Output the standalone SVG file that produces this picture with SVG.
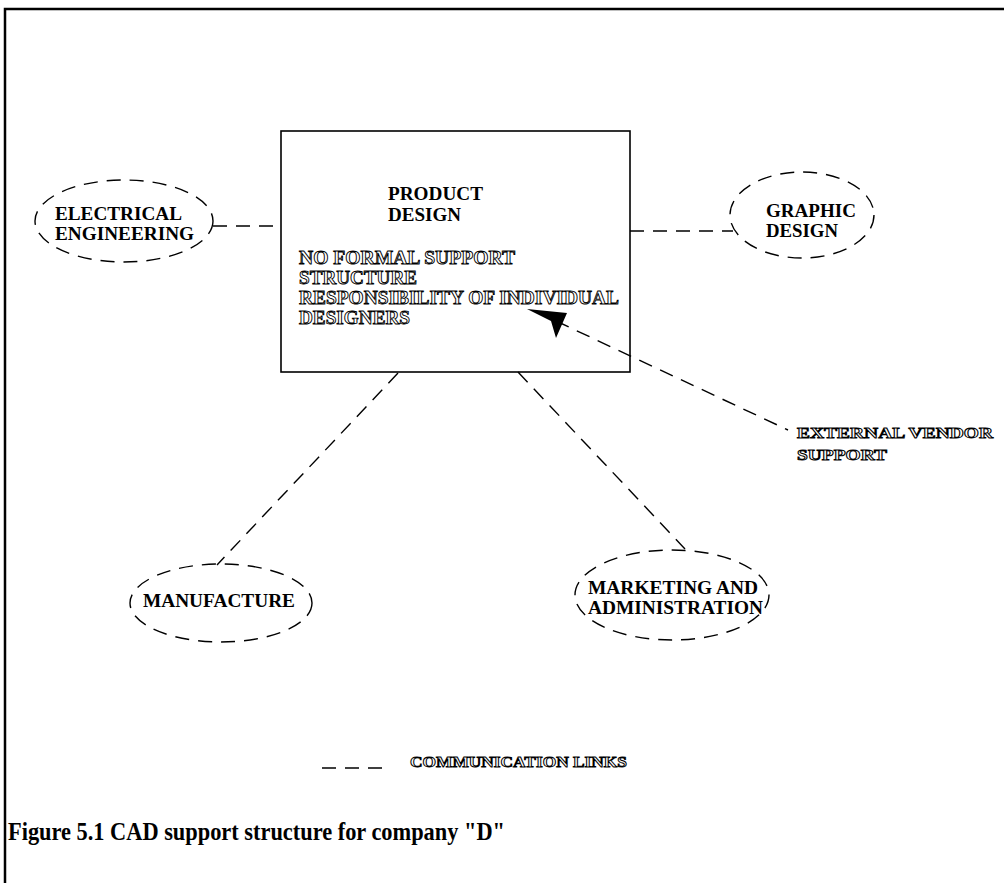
<svg xmlns="http://www.w3.org/2000/svg" width="1004" height="883" viewBox="0 0 1004 883">
  <style>
    .frame { fill: none; stroke: #000; stroke-width: 2.5; }
    .box { fill: #fff; stroke: #000; stroke-width: 1.6; }
    .dept { fill: none; stroke: #000; stroke-width: 1.4; stroke-dasharray: 14 9; }
    .link { fill: none; stroke: #000; stroke-width: 1.4; stroke-dasharray: 14 9; }
    .label { font-family: "Liberation Serif", "Times New Roman", serif; font-weight: bold; font-size: 19px; fill: #000; }
    .hollow { font-family: "Liberation Serif", "Times New Roman", serif; font-weight: bold; font-size: 19px; fill: #fff; stroke: #000; stroke-width: 0.9; }
    .small { font-size: 15px; }
    .caption { font-family: "Liberation Serif", "Times New Roman", serif; font-weight: bold; font-size: 26px; fill: #000; }
  </style>

  <rect width="1004" height="883" fill="#fff"/>

  <!-- page frame -->
  <path class="frame" d="M5,883 V9 H1004"/>

  <g id="product-design">
    <rect class="box" x="281" y="131" width="349" height="241"/>
    <text class="label" x="388" y="200" textLength="95" lengthAdjust="spacingAndGlyphs">PRODUCT</text>
    <text class="label" x="388" y="221" textLength="73" lengthAdjust="spacingAndGlyphs">DESIGN</text>
    <text class="hollow" x="299" y="264" textLength="216" lengthAdjust="spacingAndGlyphs">NO FORMAL SUPPORT</text>
    <text class="hollow" x="299" y="284" textLength="118" lengthAdjust="spacingAndGlyphs">STRUCTURE</text>
    <text class="hollow" x="299" y="304" textLength="320" lengthAdjust="spacingAndGlyphs">RESPONSIBILITY OF INDIVIDUAL</text>
    <text class="hollow" x="299" y="324" textLength="111" lengthAdjust="spacingAndGlyphs">DESIGNERS</text>
  </g>

  <g id="electrical-engineering">
    <ellipse class="dept" cx="124" cy="221" rx="89" ry="41"/>
    <text class="label" x="55" y="220" textLength="127" lengthAdjust="spacingAndGlyphs">ELECTRICAL</text>
    <text class="label" x="55" y="240" textLength="139" lengthAdjust="spacingAndGlyphs">ENGINEERING</text>
  </g>

  <g id="graphic-design">
    <ellipse class="dept" cx="802" cy="215" rx="72" ry="43"/>
    <text class="label" x="766" y="217" textLength="90" lengthAdjust="spacingAndGlyphs">GRAPHIC</text>
    <text class="label" x="766" y="237" textLength="72" lengthAdjust="spacingAndGlyphs">DESIGN</text>
  </g>

  <g id="manufacture">
    <ellipse class="dept" cx="221" cy="603" rx="91" ry="39"/>
    <text class="label" x="143" y="607" textLength="152" lengthAdjust="spacingAndGlyphs">MANUFACTURE</text>
  </g>

  <g id="marketing">
    <ellipse class="dept" cx="672" cy="595" rx="97" ry="45"/>
    <text class="label" x="588" y="594" textLength="170" lengthAdjust="spacingAndGlyphs">MARKETING AND</text>
    <text class="label" x="588" y="614" textLength="175" lengthAdjust="spacingAndGlyphs">ADMINISTRATION</text>
  </g>

  <g id="external-vendor">
    <text class="hollow small" x="797" y="438" textLength="196" lengthAdjust="spacingAndGlyphs">EXTERNAL VENDOR</text>
    <text class="hollow small" x="797" y="460" textLength="90" lengthAdjust="spacingAndGlyphs">SUPPORT</text>
  </g>

  <!-- communication links, drawn over the boxes -->
  <g id="connectors">
    <line class="link" x1="213" y1="226" x2="281" y2="226"/>
    <line class="link" x1="630" y1="231" x2="733" y2="231"/>
    <line class="link" x1="398" y1="373" x2="217" y2="565"/>
    <line class="link" x1="518" y1="372" x2="685" y2="549"/>
    <line class="link" x1="556" y1="321" x2="788" y2="430"/>
    <!-- vendor support arrowhead -->
    <polygon points="527,309 567,313 556,338 551,321" fill="#000"/>
  </g>

  <g id="legend">
    <line class="link" x1="322" y1="768" x2="388" y2="768" stroke-dasharray="18 6"/>
    <text class="hollow small" x="410" y="767" textLength="217" lengthAdjust="spacingAndGlyphs">COMMUNICATION LINKS</text>
  </g>

  <text class="caption" x="8" y="840" textLength="497" lengthAdjust="spacingAndGlyphs">Figure 5.1 CAD support structure for company "D"</text>
</svg>
